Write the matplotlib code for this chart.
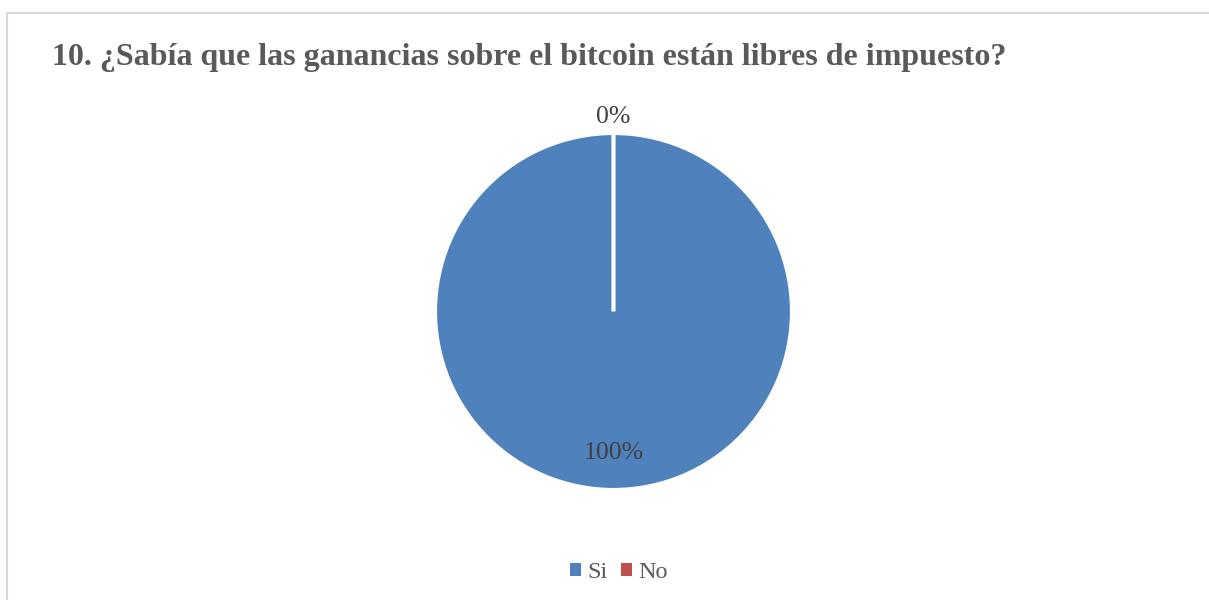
import matplotlib
matplotlib.use("Agg")
import matplotlib.pyplot as plt
import numpy as np
from matplotlib.patches import Rectangle

# survey answers (percent of respondents)
labels = ["Si", "No"]
shares = [100, 0]
colors = ["#4F81BD", "#C0504D"]
title = "10. ¿Sabía que las ganancias sobre el bitcoin están libres de impuesto?"

W, H = 1209, 600
fig = plt.figure(figsize=(W / 100, H / 100), dpi=100)
fig.patch.set_facecolor("white")

# chart frame (runs off the right and bottom edges)
fig.patches.append(Rectangle((7 / W, -0.1), 1.1, (600 - 13) / H + 0.1,
                             transform=fig.transFigure, fill=False,
                             edgecolor="#D9D9D9", linewidth=1.5))

fig.text(52 / W, 1 - 65 / H, title, fontsize=23, fontweight="bold",
         family="Liberation Serif", color="#595959", ha="left", va="baseline")

# pie centred at (613.5, 311.5) px
cx, cy, r = 613.5, 311.5, 178.5
ax = fig.add_axes([(cx - r) / W, (H - cy - r) / H, 2 * r / W, 2 * r / H])
wedges, _ = ax.pie(shares, colors=colors, startangle=90, counterclock=False,
                   radius=1, wedgeprops=dict(edgecolor="white", linewidth=3))
ax.set_xlim(-1, 1); ax.set_ylim(-1, 1)
ax.axis("off")

total = sum(shares)
for w, v in zip(wedges, shares):
    ang = np.deg2rad((w.theta1 + w.theta2) / 2)
    d = 0.79 if v / total > 0.05 else 1.09
    ax.text(d * np.cos(ang), d * np.sin(ang), f"{v / total:.0%}",
            ha="center", va="center", fontsize=18.5, family="Liberation Serif",
            color="#404040")

fig.legend(wedges, labels, loc="center", bbox_to_anchor=(619 / W, 1 - 573 / H),
           ncol=2, frameon=False, handlelength=0.45, handleheight=0.45,
           handletextpad=0.25, columnspacing=0.55,
           prop=dict(family="Liberation Serif", size=17.5), labelcolor="#595959")
for h in fig.legends[0].legend_handles:
    h.set_edgecolor("none")

fig.savefig("out.png", dpi=100)
